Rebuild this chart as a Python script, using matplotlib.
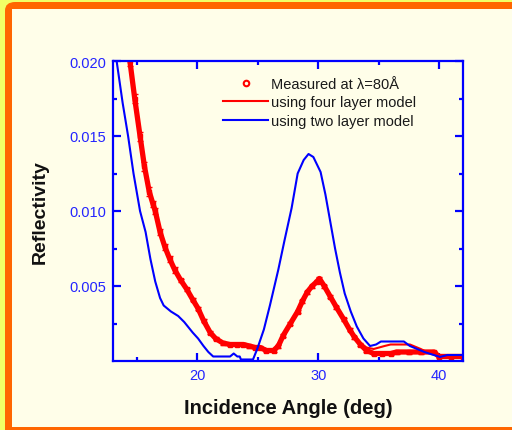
import matplotlib
matplotlib.use("Agg")
import matplotlib.pyplot as plt
from matplotlib.patches import FancyBboxPatch, Rectangle
from matplotlib.lines import Line2D
from matplotlib.ticker import FixedLocator, FormatStrFormatter

plt.rcParams['font.family'] = ['Liberation Sans', 'DejaVu Sans']

# measured reflectivity (lambda = 80 A)
meas_angle = [14.4, 14.8, 15.24, 15.6, 16.0, 16.3, 16.5, 16.9, 17.3, 17.7, 18.1, 18.6,
              19.1, 19.6, 20.05, 20.5, 21.05, 21.5, 22.1, 22.7, 23.3, 23.8, 24.3, 24.8,
              25.2, 25.7, 26.3, 26.7, 27.1, 27.7, 28.3, 28.7, 29.1, 29.5, 29.9, 30.1,
              30.5, 31.0, 31.5, 32.1, 32.6, 33.0, 33.5, 34.0, 34.6, 35.3, 36.0, 36.5,
              37.5, 38.5, 39.6, 40.0, 41.0, 42.0]
meas_refl = [0.0200, 0.0175, 0.0150, 0.0130, 0.0113, 0.0105, 0.0100, 0.0086, 0.0076, 0.0068,
             0.0061, 0.0054, 0.0048, 0.0041, 0.0035, 0.0027, 0.0019, 0.0015, 0.0012, 0.0011,
             0.0011, 0.0011, 0.0010, 0.0009, 0.0009, 0.0007, 0.0007, 0.0010, 0.0017, 0.0025,
             0.0033, 0.0040, 0.0046, 0.0050, 0.0053, 0.0055, 0.0050, 0.0043, 0.0036, 0.0028,
             0.0021, 0.0016, 0.0011, 0.0007, 0.0005, 0.0005, 0.0005, 0.0006, 0.0006, 0.0006,
             0.0006, 0.0003, 0.0003, 0.0003]
meas_err = [0.0003, 0.0003, 0.0003, 0.0003, 0.0003, 0.0002, 0.0002, 0.0002, 0.0002, 0.0002,
            0.0002, 0.0001, 0.0001, 0.0001, 0.0001, 0.0001, 0.0001, 0.0001, 0.0001, 0.0001,
            0.0001, 0.0001, 0.0001, 0.0001, 0.0001, 0.0001, 0.0001, 0.0001, 0.0001, 0.0001,
            0.0001, 0.0001, 0.0001, 0.0001, 0.0001, 0.0001, 0.0001, 0.0001, 0.0001, 0.0001,
            0.0001, 0.0001, 0.0001, 0.0001, 0.0001, 0.0001, 0.0001, 0.0001, 0.0001, 0.0001,
            0.0001, 0.0001, 0.0001, 0.0001]

# four layer model
four_angle = [14.4, 15.24, 16.0, 16.5, 17.3, 18.1, 19.1, 20.05, 21.05, 22.1, 23.3, 24.3,
              25.2, 26.3, 27.1, 28.3, 29.1, 29.9, 30.5, 31.5, 32.6, 33.5, 34.0, 34.6,
              35.5, 36.0, 37.6, 38.5, 39.0, 40.0, 42.0]
four_refl = [0.0200, 0.0150, 0.0113, 0.0100, 0.0076, 0.0061, 0.0048, 0.0035, 0.0019, 0.0012,
             0.0011, 0.0010, 0.0009, 0.0007, 0.0017, 0.0033, 0.0046, 0.0053, 0.0050, 0.0036,
             0.0021, 0.0012, 0.0009, 0.0008, 0.0010, 0.0011, 0.0011, 0.0008, 0.0006, 0.0004,
             0.0004]

# two layer model
two_angle = [13.3, 13.8, 14.25, 14.7, 15.24, 15.7, 16.1, 16.5, 16.9, 17.2, 17.8, 18.4,
             18.9, 19.2, 19.6, 20.05, 20.5, 20.9, 21.3, 22.0, 22.7, 23.0, 23.3, 23.5,
             23.6, 24.6, 24.95, 25.5, 26.0, 26.7, 27.2, 27.8, 28.3, 28.8, 29.2, 29.6,
             30.2, 30.6, 31.0, 31.4, 31.8, 32.2, 32.7, 33.2, 33.75, 34.3, 34.8, 35.2,
             36.2, 37.1, 37.6, 38.2, 38.8, 39.3, 40.1, 40.7, 42.0]
two_refl = [0.0200, 0.0172, 0.0150, 0.0125, 0.0100, 0.0086, 0.0068, 0.0053, 0.0042, 0.0037,
            0.0033, 0.0030, 0.0026, 0.0023, 0.0019, 0.0015, 0.0010, 0.0006, 0.0003, 0.0003,
            0.0003, 0.0005, 0.0003, 0.0003, 0.0001, 0.0001, 0.0008, 0.0021, 0.0037, 0.0061,
            0.0080, 0.0102, 0.0125, 0.0134, 0.0138, 0.0136, 0.0126, 0.0111, 0.0093, 0.0075,
            0.0059, 0.0045, 0.0033, 0.0023, 0.0015, 0.0010, 0.0011, 0.0013, 0.0013, 0.0013,
            0.0010, 0.0008, 0.0006, 0.00047, 0.00027, 0.0004, 0.0004]

W, H = 512, 431
fig = plt.figure(figsize=(W / 100, H / 100), dpi=100)
fig.patch.set_facecolor('#f2ff66')

# orange frame with rounded corner, cream panel inside (open on the right)
fig.patches.append(FancyBboxPatch((5 / W, -0.1), 1.2, 1.1 - 3 / H,
                                  boxstyle="round,pad=0,rounding_size=0.02",
                                  transform=fig.transFigure, facecolor='#ff6600',
                                  edgecolor='none', zorder=-2))
fig.patches.append(Rectangle((12 / W, 3 / H), 1.0, 1 - 13 / H,
                             transform=fig.transFigure, facecolor='#fffee9',
                             edgecolor='none', zorder=-1))

ax = fig.add_axes([113 / W, 1 - 362 / H, 350 / W, 300 / H])
ax.set_facecolor('#fffee9')

blue = '#0000ff'
red = '#ff0000'

ax.plot(two_angle, two_refl, color=blue, lw=1.5, zorder=3)
ax.errorbar(meas_angle, meas_refl, yerr=meas_err, color=red, lw=3.8, marker='s',
            markersize=3.5, capsize=2, elinewidth=1.8, zorder=2)
ax.plot(four_angle, four_refl, color=red, lw=1.5, zorder=2.5)

ax.set_xlim(13, 42)
ax.set_ylim(0, 0.020)
ax.xaxis.set_major_locator(FixedLocator([20, 30, 40]))
ax.xaxis.set_minor_locator(FixedLocator([15, 25, 35]))
ax.yaxis.set_major_locator(FixedLocator([0.005, 0.010, 0.015, 0.020]))
ax.yaxis.set_minor_locator(FixedLocator([0.0025, 0.0075, 0.0125, 0.0175]))
ax.yaxis.set_major_formatter(FormatStrFormatter('%.3f'))

for s in ax.spines.values():
    s.set_color(blue)
    s.set_linewidth(1.6)
ax.tick_params(which='both', direction='in', top=True, right=True, color=blue,
               labelcolor='#2424ff', width=1.6, labelsize=10.5)
ax.tick_params(which='major', length=6, pad=5)
ax.tick_params(which='minor', length=3)

ax.set_xlabel('Incidence Angle (deg)', fontsize=14.5, fontweight='bold', color='#111111')
ax.set_ylabel('Reflectivity', fontsize=14, fontweight='bold', color='#111111')
ax.xaxis.label.set_va('center')
ax.yaxis.label.set_va('center')
ax.xaxis.set_label_coords(0.5, (362 - 409) / 300)
ax.yaxis.set_label_coords((40 - 113) / 350, 0.5)

handles = [Line2D([], [], color=red, marker='o', mfc='none', mew=1.5, markersize=4,
                  linestyle='none'),
           Line2D([], [], color=red, lw=1.5),
           Line2D([], [], color=blue, lw=1.5)]
labels = ['Measured at \u03bb=80\u00c5', 'using four layer model', 'using two layer model']
leg = ax.legend(handles, labels, loc='upper left',
                bbox_to_anchor=((223 - 113) / 350, 1 - (78 - 62) / 300),
                frameon=False, fontsize=10.5, handlelength=3.1, handletextpad=0.2,
                labelspacing=0.3, borderpad=0, borderaxespad=0)
for t in leg.get_texts():
    t.set_color('#1a1a1a')

fig.savefig('out.png', dpi=100, facecolor=fig.get_facecolor())
